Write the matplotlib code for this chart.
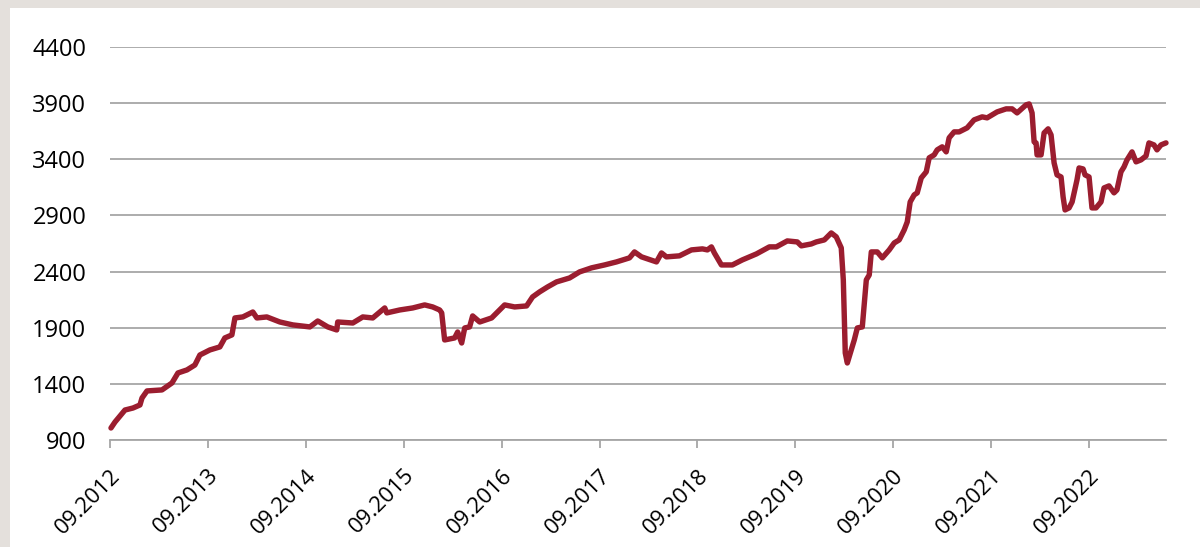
import numpy as np
import matplotlib
matplotlib.use("Agg")
import matplotlib.pyplot as plt
from matplotlib.patches import Rectangle

# time as decimal year
years = [
    2012.677, 2012.718, 2012.820, 2012.902, 2012.973, 2012.994, 2013.045, 2013.198,
    2013.300, 2013.361, 2013.453, 2013.534, 2013.585, 2013.687, 2013.789, 2013.840,
    2013.912, 2013.943, 2014.024, 2014.126, 2014.167, 2014.269, 2014.402, 2014.534,
    2014.708, 2014.789, 2014.891, 2014.983, 2014.993, 2015.147, 2015.249, 2015.351,
    2015.473, 2015.494, 2015.626, 2015.759, 2015.881, 2015.963, 2016.034, 2016.055,
    2016.085, 2016.187, 2016.218, 2016.259, 2016.290, 2016.340, 2016.371, 2016.443,
    2016.565, 2016.698, 2016.800, 2016.922, 2016.983, 2017.055, 2017.136, 2017.228,
    2017.361, 2017.463, 2017.585, 2017.718, 2017.840, 2017.973, 2018.024, 2018.096,
    2018.249, 2018.300, 2018.350, 2018.483, 2018.606, 2018.718, 2018.769, 2018.810,
    2018.840, 2018.912, 2019.024, 2019.126, 2019.269, 2019.402, 2019.473, 2019.585,
    2019.687, 2019.728, 2019.830, 2019.881, 2019.963, 2020.034, 2020.085, 2020.136,
    2020.157, 2020.177, 2020.198, 2020.238, 2020.269, 2020.300, 2020.351, 2020.392,
    2020.422, 2020.443, 2020.504, 2020.555, 2020.626, 2020.677, 2020.728, 2020.779,
    2020.810, 2020.840, 2020.881, 2020.912, 2020.953, 2021.004, 2021.034, 2021.085,
    2021.116, 2021.167, 2021.208, 2021.238, 2021.289, 2021.340, 2021.422, 2021.493,
    2021.575, 2021.626, 2021.728, 2021.820, 2021.881, 2021.932, 2022.024, 2022.055,
    2022.085, 2022.106, 2022.126, 2022.136, 2022.177, 2022.208, 2022.249, 2022.279,
    2022.310, 2022.340, 2022.381, 2022.402, 2022.422, 2022.463, 2022.494, 2022.544,
    2022.565, 2022.606, 2022.626, 2022.667, 2022.697, 2022.738, 2022.789, 2022.820,
    2022.871, 2022.922, 2022.952, 2022.993, 2023.024, 2023.055, 2023.106, 2023.147,
    2023.198, 2023.249, 2023.279, 2023.330, 2023.361, 2023.402, 2023.453,
]
values = [
    1007, 1060, 1167, 1185, 1212, 1274, 1337, 1346,
    1408, 1497, 1524, 1568, 1657, 1702, 1729, 1809,
    1836, 1987, 1996, 2040, 1987, 1996, 1951, 1925,
    1907, 1960, 1907, 1880, 1951, 1942, 1996, 1987,
    2076, 2032, 2058, 2076, 2103, 2085, 2058, 2032,
    1791, 1809, 1862, 1764, 1898, 1907, 2005, 1951,
    1987, 2103, 2085, 2094, 2174, 2219, 2263, 2308,
    2343, 2397, 2433, 2459, 2486, 2522, 2575, 2531,
    2486, 2566, 2531, 2540, 2593, 2602, 2593, 2620,
    2566, 2459, 2459, 2504, 2557, 2620, 2620, 2673,
    2664, 2629, 2646, 2664, 2682, 2744, 2709, 2611,
    2326, 1675, 1586, 1702, 1791, 1898, 1907, 2326,
    2370, 2575, 2575, 2522, 2593, 2655, 2682, 2771,
    2842, 3020, 3083, 3101, 3234, 3288, 3413, 3439,
    3484, 3511, 3466, 3591, 3644, 3644, 3680, 3751,
    3778, 3769, 3822, 3849, 3849, 3813, 3885, 3893,
    3813, 3555, 3546, 3439, 3439, 3635, 3671, 3617,
    3368, 3261, 3243, 3065, 2949, 2967, 3020, 3217,
    3323, 3314, 3261, 3243, 2967, 2967, 3020, 3145,
    3163, 3101, 3127, 3288, 3332, 3395, 3466, 3377,
    3395, 3430, 3546, 3528, 3484, 3528, 3546,
]

tick_years = [2012.667 + k for k in range(11)]
tick_labels = ["09.%d" % (2012 + k) for k in range(11)]
y_ticks = [900, 1400, 1900, 2400, 2900, 3400, 3900, 4400]

LINE = "#9b1d2f"
GRID = "#a6a6a6"

plt.rcParams['font.family'] = ['Open Sans', 'DejaVu Sans']

fig = plt.figure(figsize=(12, 5.47), dpi=100)
fig.patch.set_facecolor("#e4e0dc")
# white panel, grey strip left and top
fig.patches.append(Rectangle((10 / 1200, 0), 1, 1 - 8 / 547, transform=fig.transFigure,
                             facecolor="white", edgecolor="none", zorder=-5))

ax = fig.add_axes([110 / 1200, 1 - 440 / 547, (1166 - 110) / 1200, (440 - 47) / 547])
ax.set_zorder(2)
ax.set_facecolor("none")
ax.plot(years, values, color=LINE, lw=3.9, solid_joinstyle="round", solid_capstyle="round",
        zorder=3, clip_on=False)

ax.set_xlim(tick_years[0], 2023.453)
ax.set_ylim(900, 4400)
ax.set_yticks(y_ticks)
ax.set_yticklabels([str(v) for v in y_ticks], fontsize=17)
ax.set_xticks(tick_years)
ax.set_xticklabels(tick_labels, rotation=45, ha="right", va="top", fontsize=16,
                   rotation_mode="anchor")

ax.yaxis.grid(True, color=GRID, lw=1.3)
ax.set_axisbelow(True)
for s in ["top", "right", "left"]:
    ax.spines[s].set_visible(False)
ax.spines["bottom"].set_color(GRID)
ax.spines["bottom"].set_linewidth(1.3)
ax.tick_params(axis="y", length=0, pad=17)
ax.tick_params(axis="x", direction="out", length=6, width=1.3, color=GRID, pad=12)

fig.savefig("out.png", dpi=100, facecolor=fig.get_facecolor())
